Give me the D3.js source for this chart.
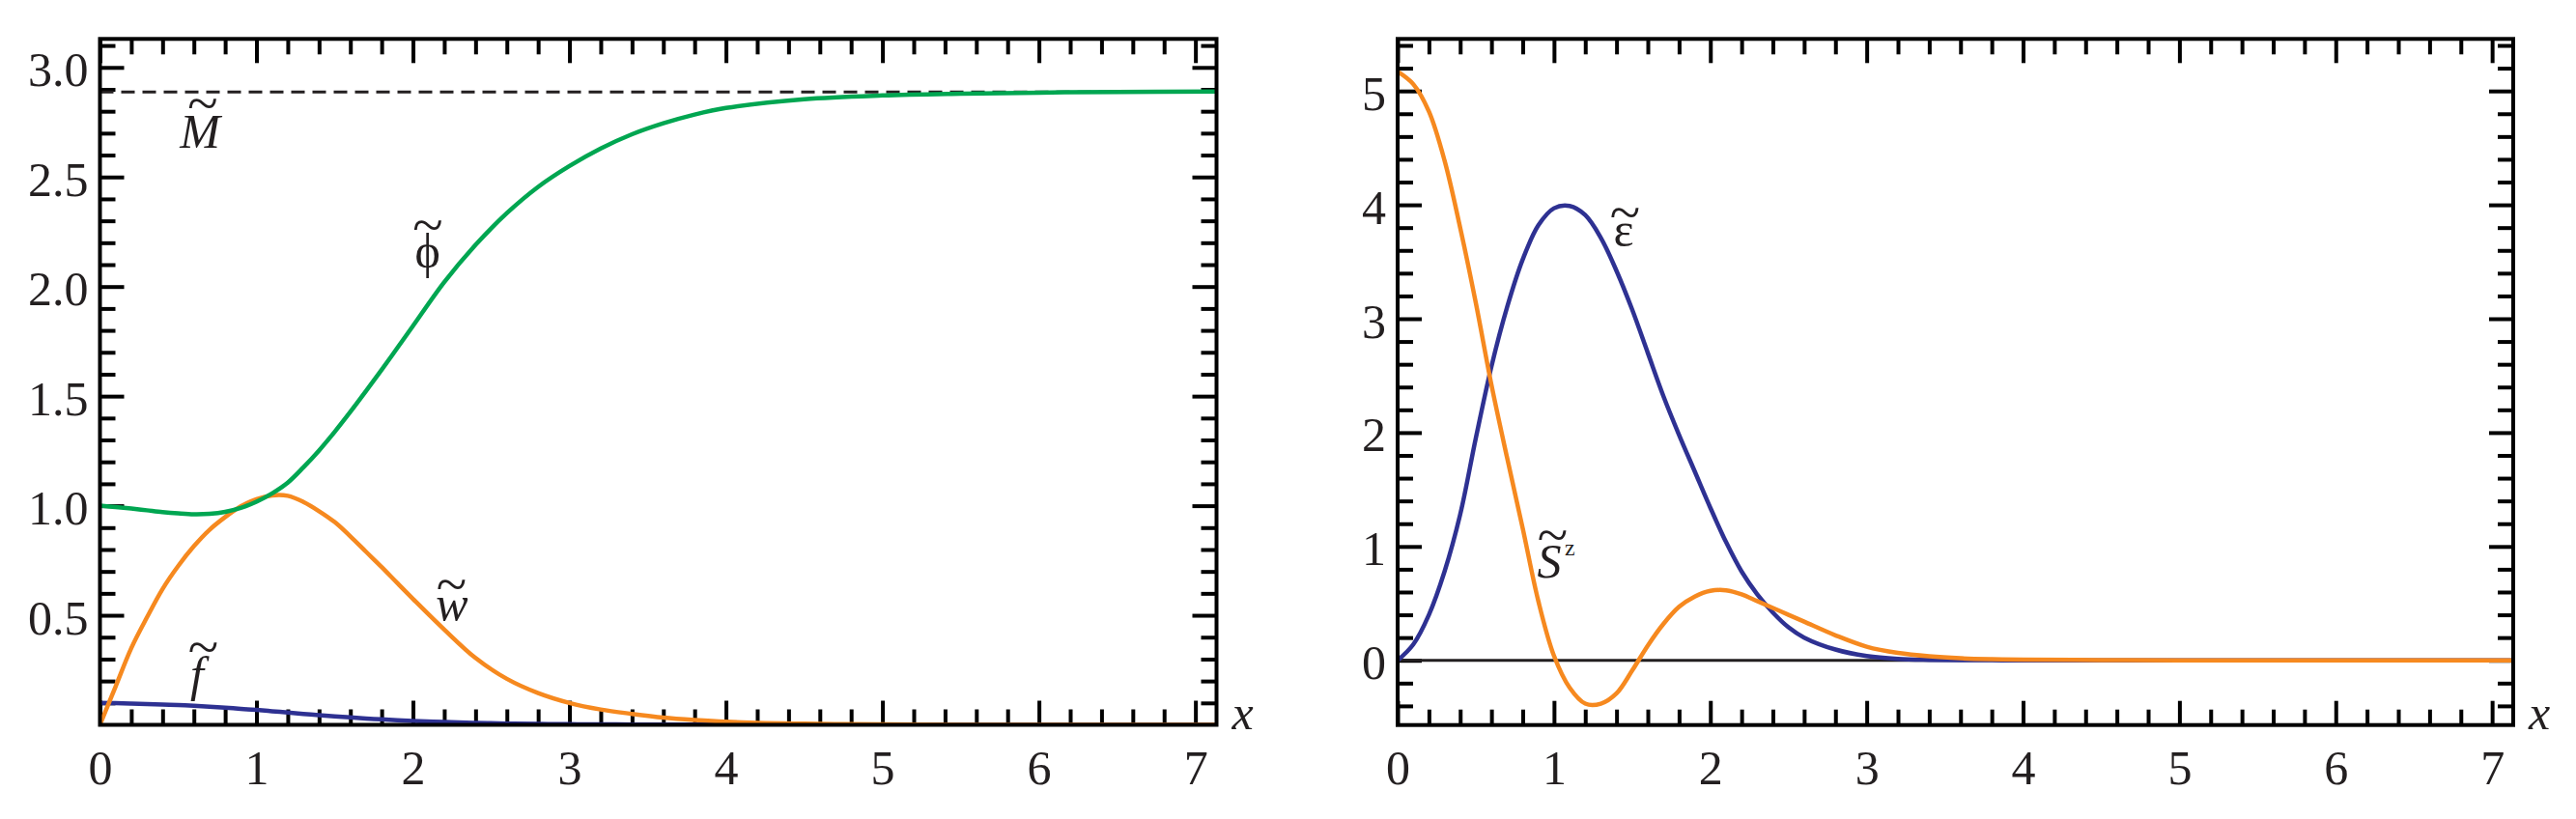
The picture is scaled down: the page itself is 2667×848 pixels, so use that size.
<!DOCTYPE html>
<html><head><meta charset="utf-8">
<script src="https://cdn.jsdelivr.net/npm/d3@7"></script>
<style>
body{margin:0;background:#fff}
svg{display:block}
text{font-family:"Liberation Serif","Times New Roman",serif;fill:#231f20}
</style>
</head><body>
<svg id="c" width="2667" height="848"></svg>
<script>
// ---------- data ----------
const xLeft = [0,0.1,0.2,0.3,0.4,0.5,0.6,0.7,0.8,0.9,1.0,1.1,1.2,1.3,1.4,1.5,1.6,1.7,1.8,1.9,2.0,2.2,2.4,2.6,2.8,3.0,3.2,3.4,3.6,3.8,4.0,4.5,5.0,5.5,6.0,6.5,7.135];
const phiTilde = [1.0,0.994,0.987,0.979,0.971,0.965,0.961,0.963,0.972,0.99,1.018,1.056,1.105,1.175,1.252,1.337,1.428,1.523,1.62,1.72,1.82,2.02,2.19,2.335,2.455,2.55,2.63,2.695,2.745,2.785,2.815,2.855,2.872,2.88,2.885,2.888,2.89];
const wTilde = [0,0.175,0.35,0.49,0.62,0.725,0.815,0.89,0.948,0.997,1.03,1.047,1.045,1.017,0.975,0.925,0.86,0.79,0.72,0.647,0.575,0.435,0.305,0.21,0.145,0.10,0.07,0.05,0.033,0.022,0.014,0.005,0.002,0.0005,0,0,0];
const fTilde = [0.1,0.099,0.097,0.095,0.093,0.09,0.087,0.083,0.078,0.073,0.068,0.062,0.056,0.05,0.044,0.039,0.034,0.029,0.025,0.021,0.018,0.013,0.009,0.006,0.004,0.003,0.002,0.0015,0.001,0.0007,0.0005,0.0002,0,0,0,0,0];
const MTilde = 2.888;

const xRight = [0,0.1,0.2,0.3,0.4,0.5,0.6,0.7,0.8,0.9,1.0,1.1,1.2,1.3,1.4,1.5,1.6,1.7,1.8,1.9,2.0,2.1,2.2,2.3,2.4,2.5,2.6,2.8,3.0,3.2,3.4,3.6,3.8,4.0,4.5,5.0,6.0,7.135];
const epsTilde = [0,0.14,0.40,0.78,1.28,1.95,2.58,3.1,3.52,3.82,3.97,3.99,3.91,3.71,3.42,3.08,2.70,2.32,1.98,1.66,1.34,1.04,0.78,0.58,0.42,0.29,0.20,0.095,0.038,0.013,0.005,0.002,0.001,0,0,0,0,0];
const SzTilde = [5.17,5.06,4.82,4.39,3.80,3.14,2.42,1.78,1.16,0.52,0.04,-0.24,-0.38,-0.38,-0.29,-0.09,0.13,0.32,0.47,0.56,0.61,0.615,0.58,0.52,0.46,0.40,0.34,0.22,0.12,0.065,0.035,0.018,0.01,0.006,0.002,0,0,0];

const xMajorTicks = [0,1,2,3,4,5,6,7];
const xMinorTicks = d3.range(0, 36).map(i => +(i*0.2).toFixed(1)).filter(v => Math.abs(v - Math.round(v)) > 1e-6 && v < 7.135);
const yLeftMajorTicks = [0.5,1.0,1.5,2.0,2.5,3.0];
const yLeftMinorTicks = d3.range(1, 32).map(i => +(i*0.1).toFixed(1)).filter(v => Math.abs(v*2 - Math.round(v*2)) > 1e-6);
const yRightMajorTicks = [0,1,2,3,4,5];
const yRightMinorTicks = d3.range(-2, 28).map(i => +(i*0.2).toFixed(1)).filter(v => Math.abs(v - Math.round(v)) > 1e-6);

const colGreen = "#00a651", colOrange = "#f6891f", colBlue = "#2e3192";

// ---------- drawing ----------
const svg = d3.select("#c");
const FS = 50, LW = 4.5;

function panel(cfg) {
  const x = d3.scaleLinear().domain(cfg.xDomain).range([cfg.left, cfg.right]);
  const y = d3.scaleLinear().domain(cfg.yDomain).range([cfg.bottom, cfg.top]);
  const g = svg.append("g");
  const clipId = "clip" + cfg.id;
  svg.append("clipPath").attr("id", clipId).append("rect")
    .attr("x", cfg.left).attr("y", cfg.top).attr("width", cfg.right - cfg.left).attr("height", cfg.bottom - cfg.top);

  const styleAxis = sel => {
    sel.select(".domain").remove();
    sel.attr("font-family", null).attr("font-size", null);
    sel.selectAll(".tick line").attr("stroke", "#000").attr("stroke-width", 4);
  };
  const MAJ = 25, MIN = 16;
  // bottom
  g.append("g").attr("transform", `translate(0,${cfg.bottom})`)
    .call(d3.axisBottom(x).tickValues(xMinorTicks).tickSize(-MIN).tickFormat(""))
    .call(styleAxis);
  const bx = g.append("g").attr("transform", `translate(0,${cfg.bottom})`)
    .call(d3.axisBottom(x).tickValues(xMajorTicks).tickSize(-MAJ).tickFormat(d3.format("d")))
    .call(styleAxis);
  bx.selectAll("text").attr("y", 61).attr("dy", 0).style("font-size", FS + "px").attr("fill", "#231f20");
  // top
  g.append("g").attr("transform", `translate(0,${cfg.top})`)
    .call(d3.axisTop(x).tickValues(xMinorTicks).tickSize(-MIN).tickFormat("")).call(styleAxis);
  g.append("g").attr("transform", `translate(0,${cfg.top})`)
    .call(d3.axisTop(x).tickValues(xMajorTicks).tickSize(-MAJ).tickFormat("")).call(styleAxis);
  // left
  g.append("g").attr("transform", `translate(${cfg.left},0)`)
    .call(d3.axisLeft(y).tickValues(cfg.yMinor).tickSize(-MIN).tickFormat("")).call(styleAxis);
  const ly = g.append("g").attr("transform", `translate(${cfg.left},0)`)
    .call(d3.axisLeft(y).tickValues(cfg.yMajor).tickSize(-MAJ).tickFormat(cfg.yFormat))
    .call(styleAxis);
  ly.selectAll("text").attr("x", -12).attr("dy", "0.38em").style("font-size", FS + "px").attr("fill", "#231f20");
  // right
  g.append("g").attr("transform", `translate(${cfg.right},0)`)
    .call(d3.axisRight(y).tickValues(cfg.yMinor).tickSize(-MIN).tickFormat("")).call(styleAxis);
  g.append("g").attr("transform", `translate(${cfg.right},0)`)
    .call(d3.axisRight(y).tickValues(cfg.yMajor).tickSize(-MAJ).tickFormat("")).call(styleAxis);

  const plot = g.append("g").attr("clip-path", `url(#${clipId})`);
  cfg.draw(plot, x, y);

  // frame
  g.append("rect").attr("x", cfg.left).attr("y", cfg.top)
    .attr("width", cfg.right - cfg.left).attr("height", cfg.bottom - cfg.top)
    .attr("fill", "none").attr("stroke", "#000").attr("stroke-width", 4);

  // axis name
  g.append("text").attr("x", cfg.right + 16).attr("y", 755)
    .style("font-size", FS + "px").style("font-style", "italic").text("x");

  // annotations: letter + tilde (+ optional superscript) in one text element
  cfg.labels.forEach(l => {
    const t = g.append("text").style("font-size", FS + "px");
    t.append("tspan").attr("x", x(l.x)).attr("y", y(l.y)).attr("text-anchor", "middle")
      .style("font-style", l.italic ? "italic" : "normal").text(l.text);
    t.append("tspan").attr("x", x(l.tx)).attr("y", y(l.ty) + 15).attr("text-anchor", "middle")
      .style("font-size", "58px").style("font-style", "normal").text("~");
    if (l.sup) {
      t.append("tspan").attr("x", x(l.supX)).attr("y", y(l.supY)).attr("text-anchor", "start")
        .style("font-size", "24px").style("font-style", "normal").text(l.sup);
    }
  });
}

const lineOf = (x, y, xs, ys) => d3.line().curve(d3.curveCatmullRom.alpha(0.5))
  .x((d, i) => x(xs[i])).y(d => y(d))(ys);

panel({
  id: "L", left: 103.5, right: 1259.5, top: 40.3, bottom: 750.5,
  xDomain: [0, 7.135], yDomain: [0, 3.13],
  yMajor: yLeftMajorTicks, yMinor: yLeftMinorTicks, yFormat: d3.format(".1f"),
  draw: (p, x, y) => {
    p.append("line").attr("x1", x(0)).attr("x2", x(7.135)).attr("y1", y(MTilde)).attr("y2", y(MTilde))
      .attr("stroke", "#231f20").attr("stroke-width", 3).attr("stroke-dasharray", "14,8");
    p.append("path").attr("d", lineOf(x, y, xLeft, fTilde)).attr("fill", "none").attr("stroke", colBlue).attr("stroke-width", LW);
    p.append("path").attr("d", lineOf(x, y, xLeft, wTilde)).attr("fill", "none").attr("stroke", colOrange).attr("stroke-width", LW);
    p.append("path").attr("d", lineOf(x, y, xLeft, phiTilde)).attr("fill", "none").attr("stroke", colGreen).attr("stroke-width", LW);
  },
  labels: [
    {text: "M", italic: true, x: 0.64, y: 2.633, tx: 0.657, ty: 2.82},
    {text: "\u03D5", italic: false, x: 2.093, y: 2.087, tx: 2.095, ty: 2.264},
    {text: "w", italic: true, x: 2.25, y: 0.478, tx: 2.247, ty: 0.624},
    {text: "f", italic: true, x: 0.62, y: 0.156, tx: 0.66, ty: 0.339}
  ]
});

panel({
  id: "R", left: 1447, right: 2602, top: 40.3, bottom: 750.7,
  xDomain: [0, 7.135], yDomain: [-0.568, 5.457],
  yMajor: yRightMajorTicks, yMinor: yRightMinorTicks, yFormat: d3.format("d"),
  draw: (p, x, y) => {
    p.append("line").attr("x1", x(0)).attr("x2", x(7.135)).attr("y1", y(0)).attr("y2", y(0))
      .attr("stroke", "#231f20").attr("stroke-width", 3);
    p.append("path").attr("d", lineOf(x, y, xRight, epsTilde)).attr("fill", "none").attr("stroke", colBlue).attr("stroke-width", LW);
    p.append("path").attr("d", lineOf(x, y, xRight, SzTilde)).attr("fill", "none").attr("stroke", colOrange).attr("stroke-width", LW);
  },
  labels: [
    {text: "\u03B5", italic: false, x: 1.445, y: 3.635, tx: 1.455, ty: 3.898},
    {text: "S", italic: true, x: 0.97, y: 0.723, tx: 0.991, ty: 1.07, sup: "z", supX: 1.069, supY: 0.921}
  ]
});
</script>
</body></html>
